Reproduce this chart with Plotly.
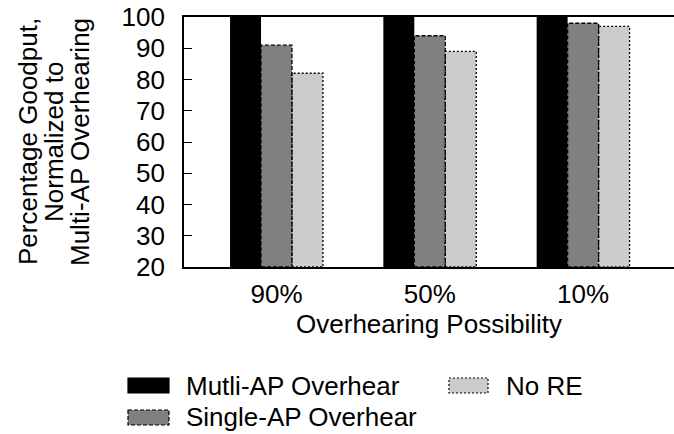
import plotly.graph_objects as go

# ---- data ----
categories = ["90%", "50%", "10%"]
series_names = ["Mutli-AP Overhear", "Single-AP Overhear", "No RE"]
multi_ap = [100, 100, 100]
single_ap = [91, 94, 98]
no_re = [82, 89, 97]
y_ticks = [20, 30, 40, 50, 60, 70, 80, 90, 100]

# ---- style ----
FONT = "Liberation Sans, Arial, Helvetica, sans-serif"
FS = 26
colors = ["#000000", "#808080", "#cccccc"]
dashes = [None, "4px,2px", "2px,2px"]
W, H = 674, 434
L, R, T, B = 184, 0, 17, 167
PW, PH = W - L - R, H - T - B
BW = 0.202  # bar width in category units
YMIN, YMAX = y_ticks[0], y_ticks[-1]

def px_x(p):
    return (p - L) / PW

def px_y(p):
    return (H - B - p) / PH

series = [multi_ap, single_ap, no_re]
xs = list(range(len(categories)))

fig = go.Figure()
shapes = []
for k, (name, vals) in enumerate(zip(series_names, series)):
    off = -1.5 * BW + k * BW
    fig.add_trace(go.Bar(
        x=xs, y=vals, name=name, width=BW, offset=off,
        marker=dict(color=colors[k], line=dict(width=0)),
        showlegend=False,
    ))
    if dashes[k]:
        for i, v in zip(xs, vals):
            shapes.append(dict(
                type="rect", xref="x", yref="y",
                x0=i + off, x1=i + off + BW, y0=YMIN, y1=v,
                line=dict(color="#000000", width=1.3, dash=dashes[k]),
                fillcolor="rgba(0,0,0,0)", layer="above",
            ))

# ---- manual legend (column-major like the original) ----
legend_pos = [  # (swatch x0, swatch x1, text x, center y) in pixels
    (128, 169, 184, 385.5),
    (128, 169, 184, 417.5),
    (449, 488, 504, 385.5),
]
annotations = []
for k, (sx0, sx1, tx, cy) in enumerate(legend_pos):
    shapes.append(dict(
        type="rect", xref="paper", yref="paper",
        x0=px_x(sx0), x1=px_x(sx1), y0=px_y(cy - 7.5), y1=px_y(cy + 7.5),
        fillcolor=colors[k],
        line=dict(color="#000000" if dashes[k] else colors[k], width=1.2,
                  dash=dashes[k] if dashes[k] else "solid"),
    ))
    annotations.append(dict(
        xref="paper", yref="paper", x=px_x(tx), y=px_y(cy),
        xanchor="left", yanchor="middle", showarrow=False,
        text=series_names[k], font=dict(family=FONT, size=FS, color="#000"),
    ))

# ---- y-axis title (three rotated lines) ----
ytitle_lines = ["Percentage Goodput,", "Normalized to", "Multi-AP Overhearing"]
for j, (line, cx) in enumerate(zip(ytitle_lines, [28, 54, 80])):
    annotations.append(dict(
        xref="paper", yref="paper", x=px_x(cx), y=0.5,
        xanchor="center", yanchor="middle", showarrow=False, textangle=-90,
        text=line, font=dict(family=FONT, size=FS, color="#000"),
    ))

fig.update_layout(
    width=W, height=H,
    margin=dict(l=L, r=R, t=T, b=B, pad=0),
    paper_bgcolor="white", plot_bgcolor="white",
    barmode="overlay",
    font=dict(family=FONT, size=FS, color="#000"),
    shapes=shapes, annotations=annotations,
    xaxis=dict(
        type="linear",
        range=[(L - 276.5) / 153.3, (W - 276.5) / 153.3],
        tickmode="array", tickvals=xs, ticktext=categories,
        ticks="", showgrid=False, zeroline=False,
        showline=True, linecolor="#000", linewidth=1.6, mirror=True,
        tickfont=dict(family=FONT, size=FS, color="#000"),
        ticklabelstandoff=3,
        title=dict(text="Overhearing Possibility", standoff=6,
                   font=dict(family=FONT, size=FS, color="#000")),
    ),
    yaxis=dict(
        range=[YMIN, YMAX], tickmode="array", tickvals=y_ticks,
        ticks="inside", ticklen=8, tickwidth=1.4, tickcolor="#000",
        showgrid=False, zeroline=False,
        showline=True, linecolor="#000", linewidth=1.6, mirror=False,
        tickfont=dict(family=FONT, size=FS, color="#000"),
        ticklabelstandoff=12,
    ),
)

fig.write_html("out.html")
